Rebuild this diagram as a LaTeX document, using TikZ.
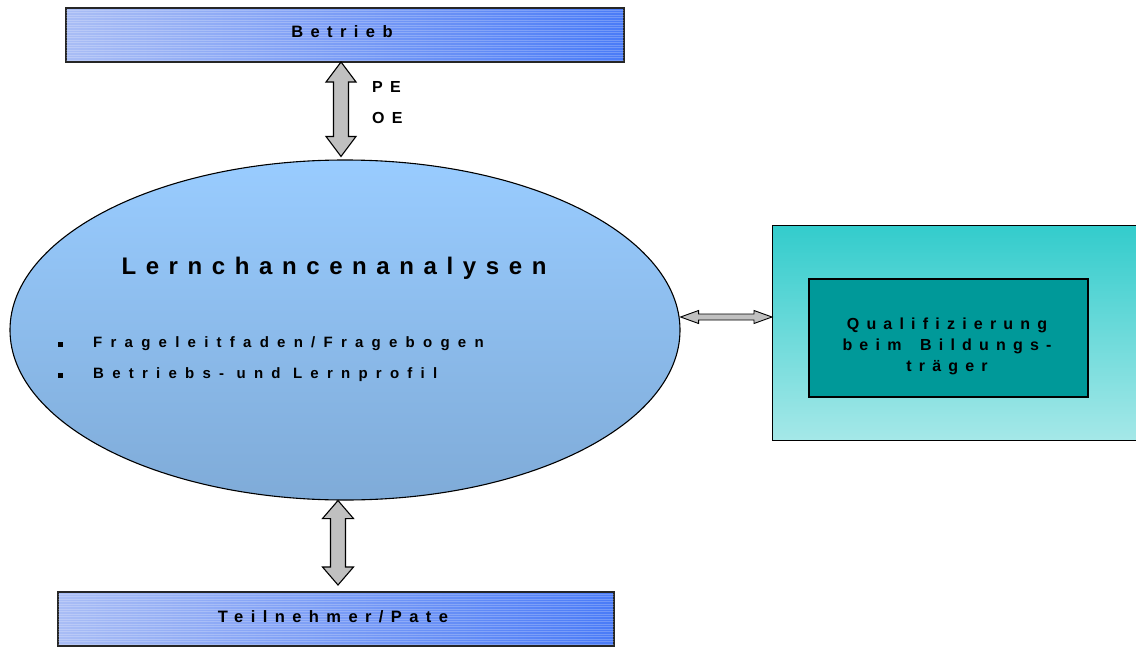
\documentclass[tikz,border=0pt]{standalone}
\usepackage{fontspec}
\setmainfont{Liberation Sans}
\newfontfamily\spacedA[LetterSpace=45]{Liberation Sans}
\newfontfamily\spacedB[LetterSpace=55]{Liberation Sans}
\newfontfamily\spacedT[LetterSpace=40]{Liberation Sans}
\usetikzlibrary{shapes.geometric,calc}
\definecolor{blueL}{HTML}{A9BDF5}
\definecolor{blueR}{HTML}{4A7BF7}
\definecolor{ellT}{HTML}{99CCFF}
\definecolor{ellB}{HTML}{7FABD8}
\definecolor{tealT}{HTML}{33CCCC}
\definecolor{tealB}{HTML}{A5E8E8}
\definecolor{tealD}{HTML}{009999}
\definecolor{arrowfill}{HTML}{C0C0C0}
\begin{document}
\begin{tikzpicture}[x=1pt,y=-1pt,
  lbl/.style={font=\spacedA\bfseries\fontsize{16.5}{21}\selectfont, text=black, inner sep=0pt},
  lblb/.style={font=\spacedB\bfseries\fontsize{15}{21}\selectfont, text=black, inner sep=0pt},
  lbli/.style={font=\spacedA\bfseries\fontsize{16}{21}\selectfont, text=black, inner sep=0pt},
  title/.style={font=\spacedT\bfseries\fontsize{24}{28}\selectfont, text=black, inner sep=0pt},
  bluebox/.style={draw=black!85, line width=1.1pt, left color=blueL, right color=blueR, inner sep=0pt, outer sep=0pt, anchor=north west},
  fatarrow/.style={draw=black, line width=1.1pt, fill=arrowfill, line join=miter},
  bulletsq/.style={fill=black, inner sep=0pt, minimum size=5pt},
  texture/.style={white, opacity=0.22, line width=0.6pt}]
\useasboundingbox (0,0) rectangle (1136,648);
\clip (0,0) rectangle (1136,648);
\fill[white] (0,0) rectangle (1136,648);

% top box
\node[bluebox, minimum width=558, minimum height=54] (betrieb) at (66,8) {};
\begin{scope}
  \clip (66,8) rectangle (624,62);
  \foreach \yy in {10,12.5,...,62} \draw[texture] (66,\yy) -- (624,\yy);
\end{scope}
\node[lbl] (betriebT) at (342,32) {Betrieb};

% bottom box
\node[bluebox, minimum width=556, minimum height=54] (teiln) at (58,592) {};
\begin{scope}
  \clip (58,592) rectangle (614,646);
  \foreach \yy in {594,596.5,...,646} \draw[texture] (58,\yy) -- (614,\yy);
\end{scope}
\node[lbl] (teilnT) at (333,617) {Teilnehmer/Pate};

% ellipse
\node[ellipse, draw=black, line width=1.1pt, top color=ellT, bottom color=ellB,
      minimum width=670, minimum height=340, inner sep=0pt] (ell) at (345,330) {};
\node[title] (ellT) at (334,268) {Lernchancenanalysen};
\node[bulletsq] (b1) at (60,344) {};
\node[lblb, anchor=west] (l1) at (93,344) {Frageleitfaden/Fragebogen};
\node[bulletsq] (b2) at (60,375) {};
\node[lblb, anchor=west] (l2) at (93,375) {Betriebs- und Lernprofil};

% right boxes
\node[draw=black, line width=1.1pt, top color=tealT, bottom color=tealB, inner sep=0pt,
      minimum width=370, minimum height=215, anchor=north west] (outer) at (772,225) {};
\node[draw=black, line width=1.1pt, fill=tealD, inner sep=0pt,
      minimum width=279, minimum height=118] (inner) at (948.5,338) {};
\node[lbli, align=center] (innerT) at (947,346) {Qualifizierung\\beim\hspace{7pt} Bildungs-\\träger};

% PE / OE
\node[lbli, anchor=west] (pe) at (372,87) {PE};
\node[lbli, anchor=west] (oe) at (372,118) {OE};

% connectors
\coordinate (t1) at ($(betrieb.south)+(-4,0)$);
\coordinate (t2) at ($(ell.north)+(-4,-3)$);
\draw[fatarrow] let \p1=(t1), \p2=(t2) in
  (\x1,\y1) -- (\x1+15pt,\y1-20pt) -- (\x1+7.5pt,\y1-20pt) -- (\x1+7.5pt,\y2+20pt)
  -- (\x1+15pt,\y2+20pt) -- (\x1,\y2) -- (\x1-15pt,\y2+20pt) -- (\x1-7.5pt,\y2+20pt)
  -- (\x1-7.5pt,\y1-20pt) -- (\x1-15pt,\y1-20pt) -- cycle;

\coordinate (u1) at ($(ell.south)+(-7,0)$);
\coordinate (u2) at ($(teiln.north)+(2,-7)$);
\draw[fatarrow] let \p1=(u1), \p2=(u2) in
  (\x1,\y1) -- (\x1+15.5pt,\y1-18pt) -- (\x1+7.5pt,\y1-18pt) -- (\x1+7.5pt,\y2+18pt)
  -- (\x1+15.5pt,\y2+18pt) -- (\x1,\y2) -- (\x1-15.5pt,\y2+18pt) -- (\x1-7.5pt,\y2+18pt)
  -- (\x1-7.5pt,\y1-18pt) -- (\x1-15.5pt,\y1-18pt) -- cycle;

\coordinate (h1) at (ell.east |- 0,317);
\coordinate (h2) at (outer.west |- 0,317);
\draw[fatarrow, line width=0.9pt] let \p1=(h1), \p2=(h2) in
  (\x1,\y1) -- (\x1+18pt,\y1+6.5pt) -- (\x1+18pt,\y1+3pt) -- (\x2-18pt,\y1+3pt)
  -- (\x2-18pt,\y1+6.5pt) -- (\x2,\y1) -- (\x2-18pt,\y1-6.5pt) -- (\x2-18pt,\y1-3pt)
  -- (\x1+18pt,\y1-3pt) -- (\x1+18pt,\y1-6.5pt) -- cycle;
\end{tikzpicture}
\end{document}
